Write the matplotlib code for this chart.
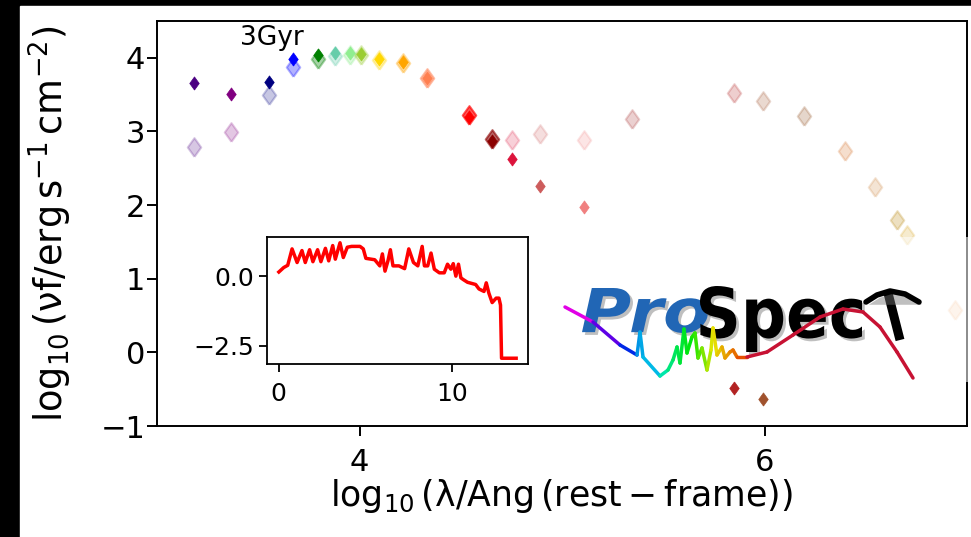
import colorsys
import numpy as np
import matplotlib
matplotlib.use("Agg")
import matplotlib.pyplot as plt
import matplotlib.patheffects as pe
from matplotlib.patches import Rectangle, PathPatch
from matplotlib.collections import LineCollection
from matplotlib.textpath import TextPath
from matplotlib.font_manager import FontProperties
from matplotlib.transforms import Affine2D

# Photometric bands: log10 wavelength, colour, observed flux, model flux
log_wave = [3.185, 3.363, 3.551, 3.674, 3.794, 3.877, 3.954, 4.008, 4.095,
            4.217, 4.334, 4.540, 4.655, 4.754, 4.889, 5.108, 5.347, 5.847,
            5.995, 6.194, 6.398, 6.547, 6.655, 6.705, 6.940]
band_colours = ['indigo', 'purple', 'navy', 'blue', 'green', 'mediumaquamarine',
                'lightgreen', 'yellowgreen', 'gold', 'orange', 'coral', 'red',
                'darkred', 'crimson', 'indianred', 'lightcoral', 'brown',
                'firebrick', 'sienna', 'saddlebrown', 'chocolate', 'peru',
                'darkgoldenrod', 'goldenrod', 'sandybrown']
obs_flux = [2.79, 2.99, 3.50, 3.88, 3.99, 4.03, 4.04, 4.04, 3.97, 3.93, 3.72,
            3.22, 2.90, 2.89, 2.97, 2.89, 3.17, 3.52, 3.42, 3.21, 2.74, 2.24,
            1.80, 1.60, 0.57]
model_flux = [3.66, 3.51, 3.67, 3.99, 4.045, 4.06, 4.06, 4.05, 3.99, 3.94, 3.73,
              3.19, 2.87, 2.63, 2.265, 1.97, np.nan, -0.48, -0.63, np.nan,
              np.nan, np.nan, np.nan, np.nan, np.nan]
obs_alpha = [0.22, 0.22, 0.22, 0.3, 0.35, 0.3, 0.3, 0.3, 0.3, 0.35, 0.5,
             0.65, 0.6, 0.2, 0.2, 0.2, 0.22, 0.22, 0.22, 0.22, 0.22, 0.22,
             0.25, 0.22, 0.25]

# Inset: star formation history style curve
inset_x = [0.02, 0.30, 0.53, 0.78, 1.07, 1.35, 1.54, 1.79, 1.98, 2.25, 2.44,
           2.70, 2.89, 3.12, 3.27, 3.54, 3.73, 3.96, 4.21, 4.69, 4.88, 5.03,
           5.54, 5.83, 5.98, 6.13, 6.30, 6.44, 6.59, 6.93, 7.26, 7.50, 7.77,
           8.02, 8.27, 8.40, 8.59, 8.78, 8.97, 9.26, 9.54, 9.73, 9.92, 10.06,
           10.21, 10.36, 10.50, 10.63, 10.88, 11.35, 11.54, 11.83, 11.96,
           12.11, 12.30, 12.53, 12.69, 12.78, 12.84, 13.68]
inset_y = [0.15, 0.31, 0.39, 0.98, 0.49, 0.92, 0.49, 0.95, 0.52, 0.95, 0.52,
           1.00, 0.55, 1.10, 0.61, 1.20, 0.67, 1.04, 1.07, 1.07, 0.98, 0.64,
           0.59, 0.37, 0.80, 0.18, 0.55, 0.95, 0.37, 0.37, 0.27, 0.98, 0.49,
           0.37, 1.07, 0.37, 0.37, 0.83, 0.25, 0.12, 0.12, 0.43, 0.25, 0.45,
           0.00, 0.43, -0.06, -0.12, -0.22, -0.30, -0.46, -0.55, -0.24,
           -0.61, -0.95, -0.79, -0.79, -1.04, -2.95, -2.95]

# Logo spectrum trace (logo box pixel frame)
logo_curve_x = [565, 593, 620, 637, 640, 643, 660, 668, 673, 677, 680, 684,
                687, 692, 695, 698, 702, 707, 711, 713, 717, 722, 725, 730,
                733, 737, 747, 767, 793, 820, 843, 863, 880, 897, 913]
logo_curve_y = [307, 322, 345, 355, 332, 357, 376, 370, 360, 347, 363, 329,
                353, 337, 333, 358, 348, 370, 350, 328, 355, 347, 358, 352,
                350, 357, 357, 352, 335, 317, 309, 312, 327, 352, 378]
pick_head_x = [866, 877, 890, 905, 919]
pick_head_y = [302, 295, 291, 294, 302]
pick_handle_x = [888, 900]
pick_handle_y = [293, 340]

W, H = 971, 537
fig = plt.figure(figsize=(W / 100, H / 100), dpi=100, facecolor='black')
fig.add_artist(Rectangle((20 / W, 0), 1 - 20 / W, 1 - 6 / H,
                         transform=fig.transFigure, color='white', zorder=-5))

diamond = [(0, -1), (0.72, 0), (0, 1), (-0.72, 0), (0, -1)]

ax = fig.add_axes([157 / W, 1 - 426 / H, (967 - 157) / W, (426 - 21) / H])
for x, yo, c, a in zip(log_wave, obs_flux, band_colours, obs_alpha):
    ax.plot(x, yo, ls='none', marker=diamond, ms=13.5, mew=1.5, color=c, alpha=a)
for x, ym, c in zip(log_wave, model_flux, band_colours):
    ax.plot(x, ym, ls='none', marker=diamond, ms=9.5, mew=0.5, color=c)
ax.text(3.565, 4.27, '3Gyr', fontsize=19, ha='center', va='center')
ax.set_xlim(3.0, 7.0)
ax.set_ylim(-1, 4.5)
ax.set_xticks([4, 6])
ax.set_yticks([-1, 0, 1, 2, 3, 4])
ax.tick_params(labelsize=22, length=7, width=1.4)
ax.tick_params(axis='x', pad=8.5)
ax.tick_params(axis='y', pad=1.5)
for s in ax.spines.values():
    s.set_linewidth(1.4)
ax.set_xlabel(r'$\log_{10}(\mathrm{\lambda}/\mathrm{Ang\,(rest-frame)})$', fontsize=25,
              labelpad=0)
ax.set_ylabel(r'$\log_{10}(\mathrm{\nu f}/\mathrm{erg\,s^{-1}\,cm^{-2}})$', fontsize=26.5,
              labelpad=19)

# inset panel
ins = fig.add_axes([267 / W, 1 - 364 / H, (528 - 267) / W, (364 - 237) / H])
ins.plot(inset_x, inset_y, color='red', lw=2.5)
ins.set_xticks([0, 10])
ins.set_yticks([0.0, -2.5])
ins.tick_params(labelsize=18, length=6, width=1.3)
ins.tick_params(axis='x', pad=7)
for s in ins.spines.values():
    s.set_linewidth(1.3)

# logo block with faded white background
fig.add_artist(Rectangle((558 / W, 1 - 382 / H), (968 - 558) / W, (382 - 237) / H,
                         transform=fig.transFigure, color='white', alpha=0.55,
                         lw=0, zorder=1))
logo = fig.add_axes([558 / W, 1 - 382 / H, (968 - 558) / W, (382 - 237) / H])
logo.set_zorder(3)
logo.set_xlim(558, 968)
logo.set_ylim(382, 237)
logo.axis('off')
shadow = [pe.withSimplePatchShadow(offset=(2, -2), shadow_rgbFace='0.45', alpha=0.45)]


def word(text, x0, x1, top, bottom, colour, italic=False):
    prop = FontProperties(family='DejaVu Sans', weight='bold',
                          style='italic' if italic else 'normal')
    tp = TextPath((0, 0), text, size=1, prop=prop)
    ext = tp.get_extents()
    sx = (x1 - x0) / ext.width
    sy = (bottom - top) / ext.height
    tr = Affine2D().translate(-ext.x0, -ext.y1).scale(sx, -sy).translate(x0, top)
    logo.add_patch(PathPatch(tr.transform_path(tp), color=colour, lw=0,
                             path_effects=shadow, zorder=2))


word('Pro', 582, 708, 288, 333, '#2166b5', italic=True)
word('Spec', 700, 862, 286, 352, 'black')
logo.plot(pick_handle_x, pick_handle_y, color='black', lw=6.5,
          solid_capstyle='butt', path_effects=shadow, zorder=2)
logo.plot(pick_head_x, pick_head_y, color='black', lw=4.0,
          solid_capstyle='round', path_effects=shadow, zorder=2)

cx = np.array(logo_curve_x, float)
cy = np.array(logo_curve_y, float)
hue = np.interp(cx, [565, 615, 650, 690, 713, 733, 747], [0.83, 0.66, 0.5, 0.33, 0.16, 0.08, 0.0])
cols = [colorsys.hsv_to_rgb(h, 1, 0.9) if xx < 747 else (0.78, 0.07, 0.2)
        for h, xx in zip(hue, cx)]
segs = np.stack([np.column_stack([cx[:-1], cy[:-1]]), np.column_stack([cx[1:], cy[1:]])], axis=1)
logo.add_collection(LineCollection(segs, colors=cols[:-1], linewidths=2.5,
                                   capstyle='round', zorder=4))

fig.savefig('out.png', dpi=100, facecolor=fig.get_facecolor())
